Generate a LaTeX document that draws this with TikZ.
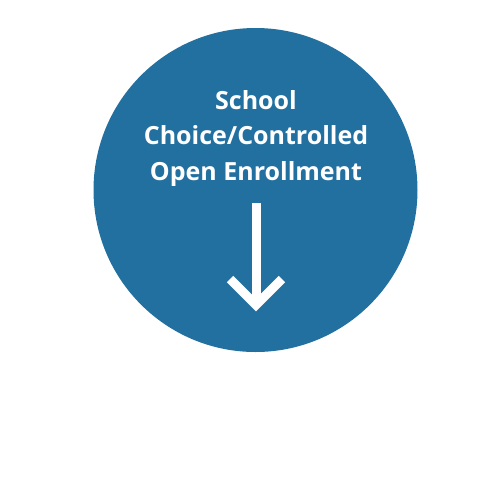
\documentclass[tikz,border=0pt]{standalone}
\usepackage{fontspec}
\setmainfont{Open Sans}
\definecolor{disc}{HTML}{2270A0}
\begin{document}
\begin{tikzpicture}[x=1pt,y=-1pt,
  lbl/.style={text=white,font=\bfseries\fontsize{25}{35.5}\selectfont,align=center,inner sep=0pt},
  arrowline/.style={draw=white,line width=9pt}]
\useasboundingbox (0,0) rectangle (499,499);
\fill[disc] (255.5,190) circle[radius=162];
\node[lbl,anchor=base] (t) at (256,180) {School\\Choice/Controlled\\Open Enrollment};
\coordinate (s) at (256,203);
\coordinate (e) at (256,302);
\coordinate (wl) at (230,279);
\coordinate (wr) at (282,279);
\draw[arrowline] (s) -- (e);
\draw[arrowline,miter limit=4] (wl) -- (256,305) -- (wr);
\end{tikzpicture}
\end{document}
